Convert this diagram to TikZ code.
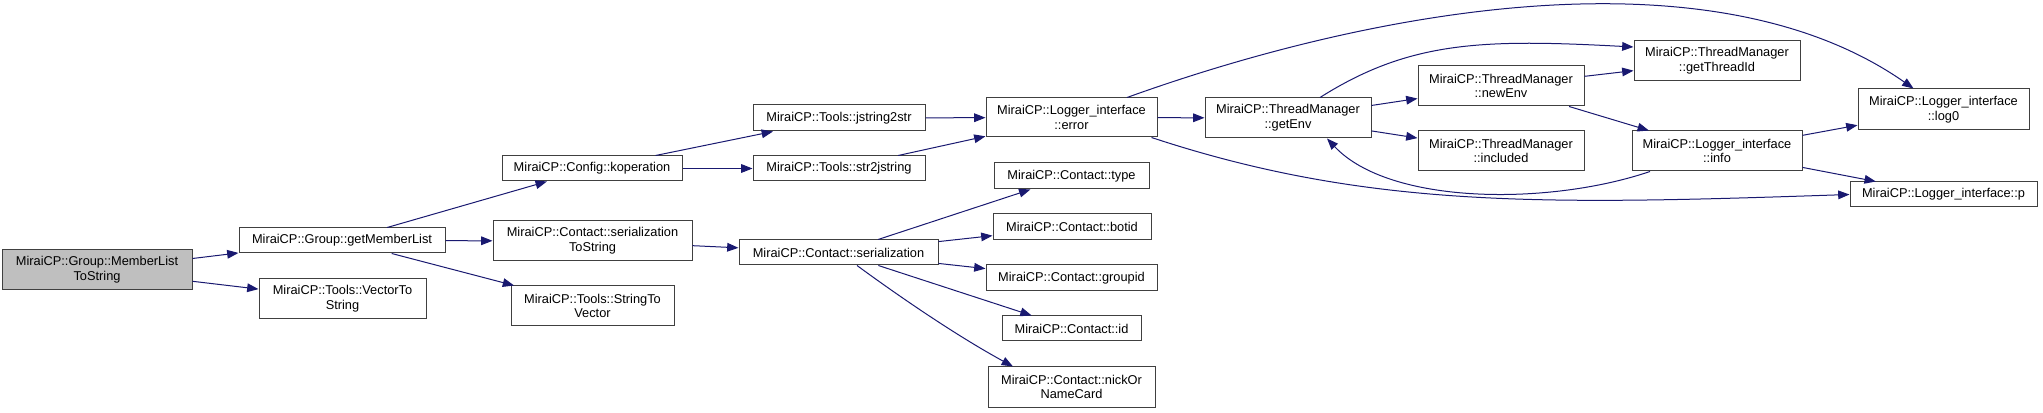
\documentclass[tikz,border=0pt]{standalone}
\usepackage{fontspec}
\setmainfont{Liberation Sans}
\usepackage{tikz}
\usetikzlibrary{calc,arrows.meta}
\definecolor{edgec}{HTML}{191970}
\definecolor{framec}{HTML}{404040}
\definecolor{rootbg}{HTML}{BFBFBF}
\tikzset{
  fn/.style={draw=framec,line width=0.75pt,fill=white,align=center,inner sep=1pt,font=\fontsize{9.6}{11}\selectfont},
  sz/.style 2 args={minimum width=#1*0.75pt,minimum height=#2*0.75pt},
  call/.style={-{Triangle[length=8.5pt,width=6.5pt]},edgec,line width=0.75pt}
}
\begin{document}
\begin{tikzpicture}[x=0.75pt,y=-0.75pt]
\useasboundingbox (0,0) rectangle (2043,413);
% functions
\node[fn,sz={190}{40},fill=rootbg] (root) at (97,270) {MiraiCP::Group::MemberList\\ToString};
\node[fn,sz={206}{25}] (gml) at (342,240.5) {MiraiCP::Group::getMemberList};
\node[fn,sz={167}{40}] (vts) at (342.5,299) {MiraiCP::Tools::VectorTo\\String};
\node[fn,sz={180}{25}] (kop) at (592,168.5) {MiraiCP::Config::koperation};
\node[fn,sz={199}{40}] (sts) at (592.5,241) {MiraiCP::Contact::serialization\\ToString};
\node[fn,sz={163}{40}] (stv) at (592.5,306) {MiraiCP::Tools::StringTo\\Vector};
\node[fn,sz={172}{26}] (j2s) at (839,118) {MiraiCP::Tools::jstring2str};
\node[fn,sz={172}{25}] (s2j) at (839,168.5) {MiraiCP::Tools::str2jstring};
\node[fn,sz={199}{25}] (ser) at (838.5,252.5) {MiraiCP::Contact::serialization};
\node[fn,sz={171}{39}] (err) at (1071.5,117.5) {MiraiCP::Logger\_interface\\::error};
\node[fn,sz={155}{26}] (typ) at (1071.5,176) {MiraiCP::Contact::type};
\node[fn,sz={158}{26}] (bot) at (1072,227) {MiraiCP::Contact::botid};
\node[fn,sz={171}{26}] (grp) at (1071.5,278) {MiraiCP::Contact::groupid};
\node[fn,sz={139}{25}] (cid) at (1071.5,328.5) {MiraiCP::Contact::id};
\node[fn,sz={167}{40}] (nick) at (1071.5,387) {MiraiCP::Contact::nickOr\\NameCard};
\node[fn,sz={166}{40}] (genv) at (1288,118) {MiraiCP::ThreadManager\\::getEnv};
\node[fn,sz={166}{40}] (nenv) at (1501,86) {MiraiCP::ThreadManager\\::newEnv};
\node[fn,sz={166}{40}] (incl) at (1501,151) {MiraiCP::ThreadManager\\::included};
\node[fn,sz={166}{40}] (gtid) at (1717,61) {MiraiCP::ThreadManager\\::getThreadId};
\node[fn,sz={170}{40}] (info) at (1717,151) {MiraiCP::Logger\_interface\\::info};
\node[fn,sz={171}{41}] (log0) at (1943.5,109.5) {MiraiCP::Logger\_interface\\::log0};
\node[fn,sz={187}{25}] (p) at (1943.5,194.5) {MiraiCP::Logger\_interface::p};
% calls
\draw[call] (root) -- (gml);
\draw[call] (root) -- (vts);
\draw[call] (gml) -- (kop);
\draw[call] (gml) -- (sts);
\draw[call] (gml) -- (stv);
\draw[call] (kop) -- (j2s);
\draw[call] (kop) -- (s2j);
\draw[call] (j2s) -- (err);
\draw[call] (s2j) -- (err);
\draw[call] (sts) -- (ser);
\draw[call] (ser) -- (typ);
\draw[call] (ser) -- (bot);
\draw[call] (ser) -- (grp);
\draw[call] (ser) -- (cid);
\draw[call] ($(ser.south)+(18.5,0)$) .. controls +(45,33) and +(-55,-30) .. ($(nick.north)+(-58.5,0)$);
\draw[call] (err) -- (genv);
\draw[call] ($(err.north)+(55.5,0)$) .. controls +(250,-90) and +(-200,-140) .. ($(log0.north)+(-30,0)$);
\draw[call] ($(err.south)+(80,0)$) .. controls +(218,72) and +(-300,10) .. (p.west);
\draw[call] ($(genv.north)+(32,0)$) .. controls +(90,-57) and +(-150,-8) .. ($(gtid.west)+(0,-14)$);
\draw[call] (genv) -- (nenv);
\draw[call] (genv) -- (incl);
\draw[call] (nenv) -- (gtid);
\draw[call] (nenv) -- (info);
\draw[call] ($(info.south)+(-67,0)$) .. controls +(-100,34) and +(63,67) .. ($(genv.south)+(39,0)$);
\draw[call] (info) -- (log0);
\draw[call] (info) -- (p);
\end{tikzpicture}
\end{document}
